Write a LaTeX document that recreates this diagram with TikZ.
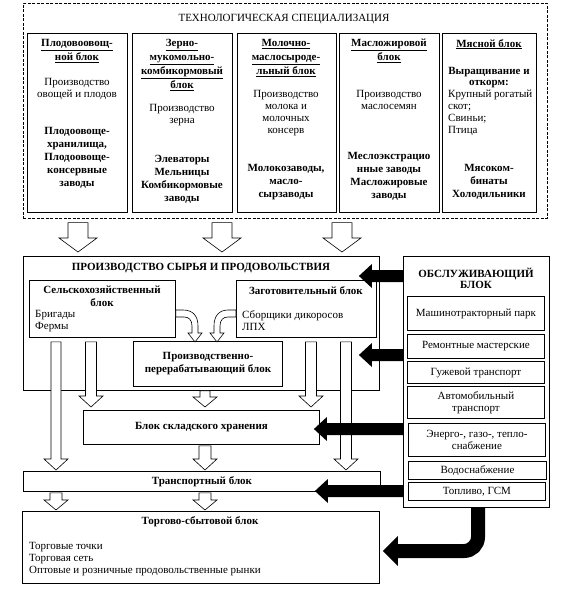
\documentclass[tikz,border=0pt]{standalone}
\usepackage{fontspec}
\setmainfont{Liberation Serif}
\usetikzlibrary{calc}
\tikzset{
  wh/.style 2 args={minimum width=#1, minimum height=#2},
  box/.style={draw, line width=0.9pt, anchor=north west, inner sep=1pt, align=center, font=\fontsize{11}{12}\selectfont},
  bbox/.style={box, font=\fontsize{11}{13}\selectfont\bfseries},
  dashbox/.style={box, line width=0.6pt, dash pattern=on 3pt off 1.5pt},
  txt/.style={anchor=north, inner sep=0pt, align=center, font=\fontsize{11}{12}\selectfont},
  btxt/.style={txt, font=\fontsize{11}{13}\selectfont\bfseries},
  htxt/.style={txt, font=\fontsize{11}{14}\selectfont\bfseries},
  ltxt/.style={txt, anchor=north west, align=left},
  hollow/.style n args={3}{draw, fill=white, line width=0.6pt,
    to path={let \p1=(\tikztostart), \p2=(\tikztotarget) in
      (\x1-#1pt,\y1) -- (\x1-#1pt,\y2+#3pt) -- (\x1-#2pt,\y2+#3pt) -- (\x1,\y2)
      -- (\x1+#2pt,\y2+#3pt) -- (\x1+#1pt,\y2+#3pt) -- (\x1+#1pt,\y1) -- cycle}},
  feed/.style={fill=black,
    to path={let \p1=(\tikztostart), \p2=(\tikztotarget) in
      (\x1,\y1+6pt) -- (\x2+13pt,\y1+6pt) -- (\x2+13pt,\y1+12pt) -- (\x2,\y1)
      -- (\x2+13pt,\y1-12pt) -- (\x2+13pt,\y1-6pt) -- (\x1,\y1-6pt) -- cycle}},
  small/.style={draw, fill=white, line width=0.6pt},
}
\begin{document}
\begin{tikzpicture}[x=1pt,y=-1pt]
\useasboundingbox (0,0) rectangle (562,590);

\node[dashbox, wh={524}{215}] (spec) at (23,3) {};
\node[txt, anchor=center] (spectitle) at (284,19) {ТЕХНОЛОГИЧЕСКАЯ СПЕЦИАЛИЗАЦИЯ};
\node[box, wh={100}{179}] (c1) at (27,33) {};
\node[box, wh={100}{179}] (c2) at (132,33) {};
\node[box, wh={99}{179}] (c3) at (237,33) {};
\node[box, wh={100}{179}] (c4) at (339,33) {};
\node[box, wh={94}{179}] (c5) at (442,33) {};

\node[htxt] (h1) at (77,39) {\underline{Плодовоовощ-}\\\underline{ной блок}};
\node[txt] (p1) at (77,78) {Производство\\овощей и плодов};
\node[btxt] (f1) at (77,127) {Плодоовоще-\\хранилища,\\Плодоовоще-\\консервные\\заводы};

\node[htxt] (h2) at (182,39) {\underline{Зерно-}\\\underline{мукомольно-}\\\underline{комбикормовый}\\\underline{блок}};
\node[txt] (p2) at (182,104) {Производство\\зерна};
\node[btxt] (f2) at (182,155) {Элеваторы\\Мельницы\\Комбикормовые\\заводы};

\node[htxt] (h3) at (286,39) {\underline{Молочно-}\\\underline{маслосыроде-}\\\underline{льный блок}};
\node[txt] (p3) at (286,90) {Производство\\молока и\\молочных\\консерв};
\node[btxt] (f3) at (286,164) {Молокозаводы,\\масло-\\сырзаводы};

\node[htxt] (h4) at (389,39) {\underline{Масложировой}\\\underline{блок}};
\node[txt] (p4) at (389,90) {Производство\\маслосемян};
\node[btxt] (f4) at (389,152) {Меслоэкстрацио\\нные заводы\\Масложировые\\заводы};

\node[htxt] (h5) at (489,39) {\underline{Мясной блок}};
\node[btxt, font=\fontsize{11}{11}\selectfont\bfseries] (g5) at (489,67) {Выращивание и\\откорм:};
\node[ltxt] (p5) at (448,90) {Крупный рогатый\\скот;\\Свиньи;\\Птица};
\node[btxt] (f5) at (489,164) {Мясоком-\\бинаты\\Холодильники};

\node[box, wh={356}{134}] (prod) at (23,256) {};
\node[btxt, anchor=center] (prodtitle) at (201,268) {ПРОИЗВОДСТВО СЫРЬЯ И ПРОДОВОЛЬСТВИЯ};
\node[box, wh={146}{57}] (agro) at (29,280) {};
\node[btxt] (agrotitle) at (102,286) {Сельскохозяйственный\\блок};
\node[ltxt] (agrolist) at (35,310) {Бригады\\Фермы};
\node[box, wh={140}{57}] (zag) at (236,280) {};
\node[btxt, anchor=center] (zagtitle) at (306,291) {Заготовительный блок};
\node[ltxt] (zaglist) at (242,310) {Сборщики дикоросов\\ЛПХ};
\node[bbox, wh={149}{45}] (proc) at (133,341) {Производственно-\\перерабатывающий блок};

\node[bbox, wh={236}{34}] (store) at (83,410) {Блок складского хранения};
\node[bbox, wh={357}{20}] (trans) at (23,471) {Транспортный блок};
\node[box, wh={357}{72}] (trade) at (22,511) {};
\node[btxt, anchor=center] (tradetitle) at (200,522) {Торгово-сбытовой блок};
\node[ltxt] (tradelist) at (29,542) {Торговые точки\\Торговая сеть\\Оптовые и розничные продовольственные рынки};

\node[box, wh={146}{251}] (serv) at (403,256) {};
\node[btxt, font=\fontsize{11}{11}\selectfont\bfseries] (servtitle) at (476,268) {ОБСЛУЖИВАЮЩИЙ\\БЛОК};
\node[box, wh={137}{34}] (s1) at (407,296) {Машинотракторный парк};
\node[box, wh={137}{24}] (s2) at (407,334) {Ремонтные мастерские};
\node[box, wh={137}{22}] (s3) at (407,361) {Гужевой транспорт};
\node[box, wh={137}{32}] (s4) at (407,386) {Автомобильный\\транспорт};
\node[box, wh={137}{33}] (s5) at (408,423) {Энерго-, газо-, тепло-\\снабжение};
\node[box, wh={138}{18}] (s6) at (408,461) {Водоснабжение};
\node[box, wh={137}{18}] (s7) at (408,482) {Топливо, ГСМ};

\coordinate (xt1) at (78,0);
\coordinate (xt2) at (222,0);
\coordinate (xt3) at (342,0);
\coordinate (xa) at (56,0);
\coordinate (xb) at (91,0);
\coordinate (xm) at (205,0);
\coordinate (xd) at (311,0);
\coordinate (xe) at (346,0);
\coordinate (xs) at (478,0);

\foreach \c in {xt1,xt2,xt3}
  \draw[hollow={10}{19}{14}] ($(spec.south -| \c)+(0,4)$) to ($(prod.north -| \c)+(0,-4)$);
\draw[hollow={5}{12}{11}] ($(agro.south -| xa)+(0,4)$) to ($(trans.north -| xa)+(0,-1)$);
\draw[hollow={5.5}{12}{11}] ($(agro.south -| xb)+(0,4)$) to ($(store.north -| xb)+(0,-3)$);
\draw[hollow={5}{12}{10}] ($(proc.south -| xm)+(0,4)$) to ($(store.north -| xm)+(0,-3)$);
\draw[hollow={5.5}{12}{11}] ($(zag.south -| xd)+(0,4)$) to ($(store.north -| xd)+(0,-3)$);
\draw[hollow={5.5}{12}{11}] ($(zag.south -| xe)+(0,4)$) to ($(trans.north -| xe)+(0,-1)$);
\draw[hollow={6}{12}{11}] ($(store.south -| xm)+(0,1)$) to ($(trans.north -| xm)+(0,-1)$);
\draw[hollow={6}{12}{10}] ($(trans.south -| xa)+(0,1)$) to ($(trade.north -| xa)+(0,-1)$);
\draw[hollow={6}{12}{10}] ($(trans.south -| xm)+(0,1)$) to ($(trade.north -| xm)+(0,-1)$);

\draw[small] (agro.east |- 0,310) -- (183,310) .. controls (193,310) and (198,316) .. (198,326)
  -- (198,333) -- (202,333) -- (195,342) -- (188,333) -- (192,333) -- (192,326)
  .. controls (192,320) and (189,317) .. (184,317) -- (agro.east |- 0,317) -- cycle;
\draw[small] (zag.west |- 0,310) -- (228,310) .. controls (219,310) and (214,316) .. (214,326)
  -- (214,333) -- (210,333) -- (217,342) -- (224,333) -- (220,333) -- (220,326)
  .. controls (220,320) and (223,317) .. (228,317) -- (zag.west |- 0,317) -- cycle;

\coordinate (y1) at (0,276);
\coordinate (y2) at (0,355);
\coordinate (y3) at (0,429);
\coordinate (y4) at (0,491);
\coordinate (y5) at (0,551);
\path[feed] (serv.west |- y1) to ($(prod.east |- y1)+(-21,0)$);
\path[feed] (serv.west |- y2) to ($(prod.east |- y2)+(-21,0)$);
\path[feed] (serv.west |- y3) to ($(store.east |- y3)+(-6,0)$);
\path[feed] (serv.west |- y4) to ($(trans.east |- y4)+(-66,0)$);
\draw[line width=14pt, rounded corners=14pt] (serv.south -| xs) -- (xs |- y5) -- ($(trade.east |- y5)+(18,0)$);
\fill let \p1=($(trade.east |- y5)+(18,0)$) in (\x1,\y1+15pt) -- ($(trade.east |- y5)+(3,0)$) -- (\x1,\y1-15pt) -- cycle;
\end{tikzpicture}
\end{document}
